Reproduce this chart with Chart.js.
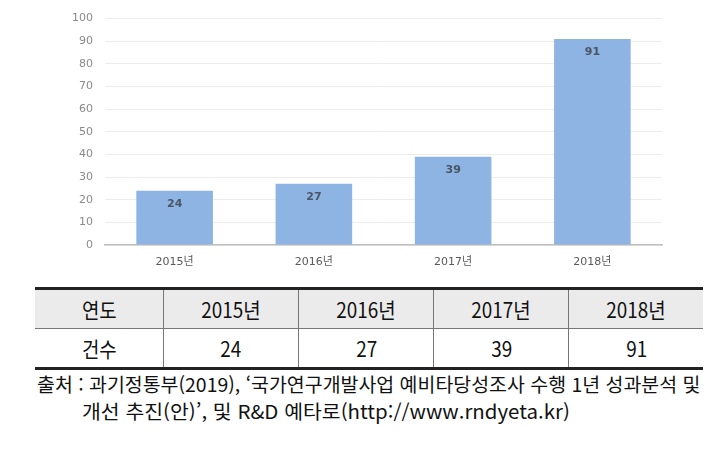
<!DOCTYPE html>
<html lang="ko">
<head>
<meta charset="utf-8">
<script src="https://cdn.jsdelivr.net/npm/chart.js@4"></script>
<style>
  html, body { margin: 0; padding: 0; background: #fff; }
  #wrap { position: relative; width: 723px; height: 450px; overflow: hidden; }
  #chartBox { position: absolute; left: 0; top: 0; width: 723px; height: 275px; }
  table {
    position: absolute; left: 35px; top: 287px; width: 668px;
    border-collapse: collapse;
    font-family: "Liberation Sans Narrow", "Noto Sans CJK KR", sans-serif;
    font-size: 21px; color: #111;
  }
  table { border-top: 3px solid #222; border-bottom: 3px solid #222; }
  td { text-align: center; height: 38px; padding: 0; border-left: 1px solid #777; }
  td:first-child { border-left: none; width: 128px; }
  tr.head td { background: #ebebeb; border-bottom: 1px solid #777; }
  td span { display: inline-block; transform: scaleX(0.9); }
  .src {
    position: absolute;
    font-family: "Liberation Sans Narrow", "Noto Sans CJK KR", sans-serif;
    font-size: 19px; color: #111; white-space: nowrap;
    transform-origin: left center;
  }
</style>
</head>
<body>
<div id="wrap">
  <div id="chartBox"><canvas id="c"></canvas></div>
  <table id="tbl"></table>
  <div class="src" id="src1" style="left:37px; top:370px;">출처 : 과기정통부(2019), ‘국가연구개발사업 예비타당성조사 수행 1년 성과분석 및</div>
  <div class="src" id="src2" style="left:82px; top:397px;">개선 추진(안)’, 및 R&amp;D 예타로(http://www.rndyeta.kr)</div>
</div>
<script>
const years = ["2015년", "2016년", "2017년", "2018년"];
const counts = [24, 27, 39, 91];
const rowHeads = ["연도", "건수"];

// table under the chart
const tbl = document.getElementById("tbl");
const rows = [[rowHeads[0]].concat(years), [rowHeads[1]].concat(counts)];
rows.forEach((r, i) => {
  const tr = document.createElement("tr");
  if (i === 0) tr.className = "head";
  r.forEach(v => {
    const td = document.createElement("td");
    td.innerHTML = "<span>" + v + "</span>";
    tr.appendChild(td);
  });
  tbl.appendChild(tr);
});

// squeeze source lines to their width in the picture
const fit = (id, w) => {
  const el = document.getElementById(id);
  el.style.transform = "scaleX(" + (w / el.offsetWidth) + ")";
};
fit("src1", 663);
fit("src2", 488);

// value labels inside the top of each bar
const barLabels = {
  id: "barLabels",
  afterDatasetsDraw(chart) {
    const ctx = chart.ctx;
    const meta = chart.getDatasetMeta(0);
    ctx.save();
    ctx.font = "bold 11px 'DejaVu Sans'";
    ctx.fillStyle = "#4a5566";
    ctx.textAlign = "center";
    ctx.textBaseline = "middle";
    meta.data.forEach((bar, i) => {
      ctx.fillText(counts[i], bar.x, bar.y + 13);
    });
    ctx.restore();
  }
};

new Chart(document.getElementById("c"), {
  type: "bar",
  data: {
    labels: years,
    datasets: [{
      data: counts,
      backgroundColor: "#8db4e2",
      categoryPercentage: 1,
      barPercentage: 0.55
    }]
  },
  options: {
    responsive: true,
    maintainAspectRatio: false,
    animation: false,
    layout: { padding: { top: 15, right: 61, bottom: 0, left: 0 } },
    plugins: { legend: { display: false }, tooltip: { enabled: false } },
    scales: {
      x: {
        afterFit: s => { s.height = 30; },
        grid: { display: false, drawTicks: false },
        border: { display: true, color: "#bfbfbf", width: 1.5 },
        ticks: { padding: 11, color: "#595959", font: { size: 11, family: "'DejaVu Sans', 'Noto Sans CJK KR'" } }
      },
      y: {
        min: 0, max: 100,
        afterFit: s => { s.width = 105; },
        grid: { color: "#ececec", drawTicks: false },
        border: { display: false },
        ticks: { stepSize: 10, padding: 12, color: "#8a8a8a", font: { size: 11, family: "'DejaVu Sans'" } }
      }
    }
  },
  plugins: [barLabels]
});
</script>
</body>
</html>
